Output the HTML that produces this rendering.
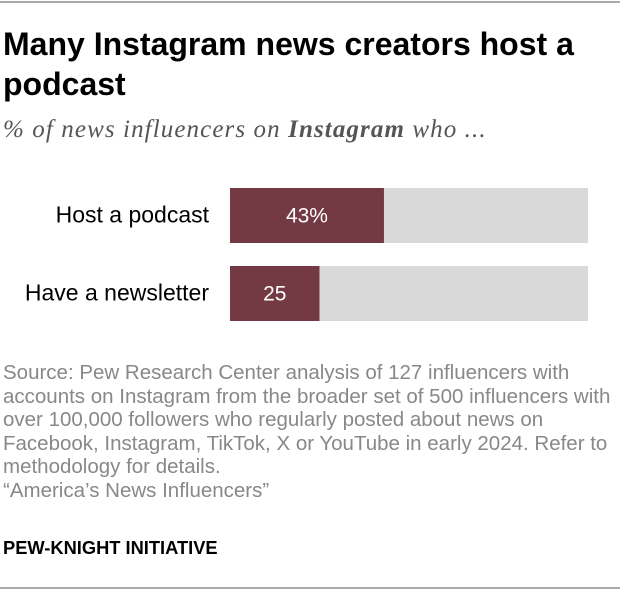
<!DOCTYPE html>
<html><head><meta charset="utf-8"><style>
body{margin:0;width:620px;height:590px;background:#fff;position:relative;overflow:hidden;font-family:"Liberation Sans",sans-serif}
.abs{position:absolute}
</style></head><body>
<div class="abs" style="left:0;top:1px;width:620px;height:2px;background:#aaa"></div>
<div class="abs" style="left:3px;top:24px;width:615px;font-size:32px;font-weight:bold;line-height:40px;color:#000;white-space:nowrap">Many Instagram news creators host a<br>podcast</div>
<div class="abs" style="left:3px;top:116px;font-family:'Liberation Serif',serif;font-style:italic;font-size:25px;letter-spacing:1.1px;color:#555;white-space:nowrap">% of news influencers on <b style="color:#555">Instagram</b> who ...</div>
<svg class="abs" style="left:0;top:0" width="620" height="340">
<g id="bars"></g>
</svg>
<div class="abs" style="left:3px;top:361px;width:617px;font-size:20.5px;line-height:23.5px;color:#888;white-space:nowrap">Source: Pew Research Center analysis of 127 influencers with<br>accounts on Instagram from the broader set of 500 influencers with<br>over 100,000 followers who regularly posted about news on<br>Facebook, Instagram, TikTok, X or YouTube in early 2024. Refer to<br>methodology for details.<br>“America’s News Influencers”</div>
<div class="abs" style="left:3px;top:537px;font-size:18.3px;font-weight:bold;color:#000">PEW-KNIGHT INITIATIVE</div>
<div class="abs" style="left:0;top:587px;width:620px;height:2px;background:#aaa"></div>
<script>
const categories=["Host a podcast","Have a newsletter"];
const values=[43,25];
const valueLabels=["43%","25"];
const x0=230,x1=588,top0=188,step=78,bh=55;
const xs=v=>x0+(x1-x0)*v/100;
const g=document.getElementById('bars');
const NS='http://www.w3.org/2000/svg';
categories.forEach((c,i)=>{
 const y=top0+i*step;
 const bg=document.createElementNS(NS,'rect');
 bg.setAttribute('x',x0);bg.setAttribute('y',y);bg.setAttribute('width',x1-x0);bg.setAttribute('height',bh);bg.setAttribute('fill','#d9d9d9');
 
 
 g.appendChild(bg);
 const r=document.createElementNS(NS,'rect');
 r.setAttribute('x',x0);r.setAttribute('y',y);r.setAttribute('width',xs(values[i])-x0);r.setAttribute('height',bh);r.setAttribute('fill','#743a44');
 
 
 g.appendChild(r);
 const t=document.createElementNS(NS,'text');
 t.setAttribute('x',(x0+xs(values[i]))/2);t.setAttribute('y',y+bh/2+7);t.setAttribute('text-anchor','middle');t.setAttribute('fill','#fff');t.setAttribute('font-size','21');t.setAttribute('font-family','Liberation Sans, sans-serif');
 t.textContent=valueLabels[i];
 
 
 g.appendChild(t);
 const l=document.createElementNS(NS,'text');
 l.setAttribute('x',209);l.setAttribute('y',y+bh/2+7);l.setAttribute('text-anchor','end');l.setAttribute('fill','#000');l.setAttribute('font-size','23');l.setAttribute('font-family','Liberation Sans, sans-serif');
 l.textContent=c;
 
 
 g.appendChild(l);
});
</script>
</body></html>
